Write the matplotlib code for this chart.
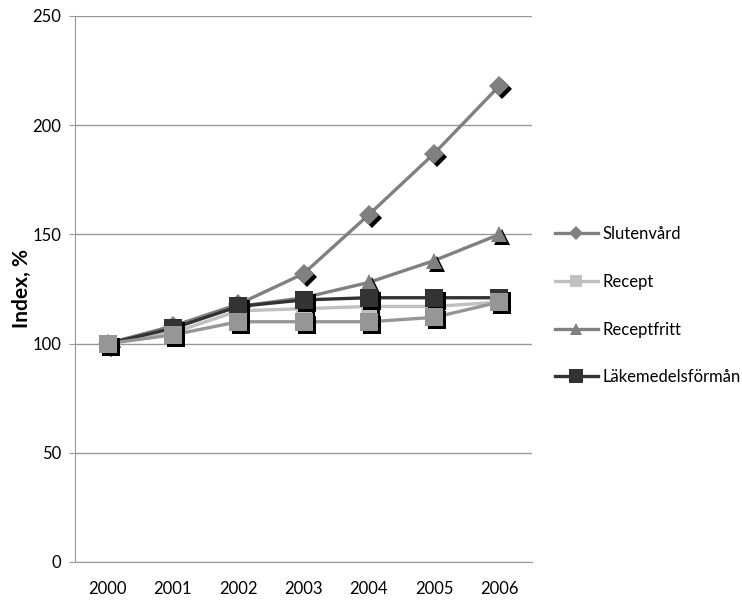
#!/usr/bin/env python
# -*- coding: utf-8 -*-
# Index-kurvor 2000-2006, Excel-liknande linjediagram med skuggade markorer

import matplotlib
matplotlib.use("Agg")
from matplotlib import pyplot as plt
from matplotlib import transforms

#============================== Data ==============================
years = ["2000", "2001", "2002", "2003", "2004", "2005", "2006"]
slutenvard = [100, 108, 118, 132, 159, 187, 218]
recept = [100, 105, 115, 116, 117, 117, 119]
receptfritt = [100, 108, 117, 121, 128, 138, 150]
lakemedel = [100, 107, 117, 120, 121, 121, 121]
ovrigt = [100, 104, 110, 110, 110, 112, 119]   # serie utan legend

series = [
    ("Slutenvård", slutenvard, "#808080", "D", 10),
    ("Recept", recept, "#c0c0c0", "s", 12),
    ("Receptfritt", receptfritt, "#808080", "^", 12),
    ("Läkemedelsförmån", lakemedel, "#333333", "s", 13),
    (None, ovrigt, "#969696", "s", 13),
]

plt.rcParams['font.family'] = ['Lato', 'DejaVu Sans']

fig = plt.figure(figsize=(7.42, 6.05), dpi=100)
ax = fig.add_axes([75/742, 1 - 562/605, (532-75)/742, (562-16)/605])

x = list(range(len(years)))
shadow = transforms.offset_copy(ax.transData, fig=fig, x=3, y=-3, units='dots')

z = 3
for label, vals, col, mk, ms in series:
    ax.plot(x, vals, color=col, lw=2.4, zorder=z, solid_capstyle='round')
    # skugga
    ax.plot(x, vals, ls='none', marker=mk, ms=ms, color='black',
            markeredgewidth=0, transform=shadow, zorder=z + 0.1)
    ax.plot(x, vals, ls='none', marker=mk, ms=ms, color=col,
            markeredgewidth=0, zorder=z + 0.2)
    z += 1

# legend med proxy-linjer
handles = []
for label, vals, col, mk, ms in series:
    if label is None:
        continue
    h, = ax.plot([], [], color=col, lw=2.4, marker=mk, ms=ms * 0.75,
                 markeredgewidth=0, label=label)
    handles.append(h)
leg = ax.legend(handles=handles, loc='upper left', bbox_to_anchor=(1.035, 0.627),
                frameon=False, fontsize=12, handlelength=2.6, handletextpad=0.25,
                labelspacing=1.9, borderaxespad=0)

ax.set_xlim(-0.5, 6.5)
ax.set_ylim(0, 250)
ax.set_yticks(range(0, 251, 50))
ax.set_xticks(x)
ax.set_xticklabels(years)
ax.tick_params(axis='both', labelsize=12, colors='black')
ax.tick_params(axis='x', length=0, pad=14)
ax.tick_params(axis='y', length=4, color='#999999', pad=6)
ax.yaxis.grid(True, color='#999999', lw=1)
ax.set_axisbelow(True)
for s in ['top', 'right']:
    ax.spines[s].set_visible(False)
for s in ['left', 'bottom']:
    ax.spines[s].set_color('#999999')
ax.set_ylabel("Index, %", fontsize=15, fontweight='bold', labelpad=0)

fig.savefig("out.png", dpi=100)
